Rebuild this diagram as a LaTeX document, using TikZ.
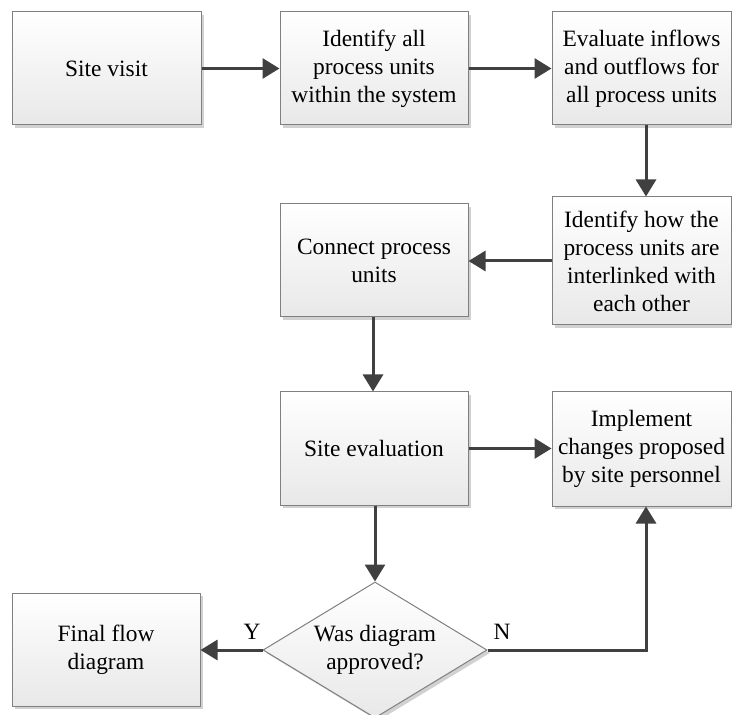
\documentclass[tikz,border=0pt]{standalone}
\usepackage{fontspec}
\setmainfont{Liberation Serif}
\usetikzlibrary{arrows.meta,shapes.geometric,shadows}

\tikzset{
  flowbox/.style={rectangle, draw=black!50, line width=0.5pt,
    top color=white, bottom color=black!9,
    drop shadow={shadow xshift=1.5pt, shadow yshift=-1.5pt, fill=black!18, opacity=1},
    inner sep=0pt, align=center,
    font=\fontsize{11.7pt}{14pt}\selectfont},
  decision/.style={diamond, draw=black!50, line width=0.5pt,
    top color=white, bottom color=black!9,
    drop shadow={shadow xshift=1.5pt, shadow yshift=-1.5pt, fill=black!18, opacity=1},
    inner sep=0pt, aspect=1.65, minimum width=112pt, minimum height=68pt,
    align=center, font=\fontsize{11.7pt}{14pt}\selectfont},
  link/.style={draw=black!75, line width=1.5pt,
    -{Triangle[length=8.5pt,width=10pt]}},
  branch/.style={font=\fontsize{11.7pt}{14pt}\selectfont}
}

\begin{document}
\begin{tikzpicture}[x=0.5pt, y=-0.5pt]
  \useasboundingbox (0,0) rectangle (732,715);

  % top row
  \node[flowbox, minimum width=94.5pt, minimum height=56.5pt] (visit) at (106.5,68.5) {Site visit};
  \node[flowbox, minimum width=94pt, minimum height=56.5pt] (units) at (374,68.5)
    {Identify all\\process units\\within the system};
  \node[flowbox, minimum width=89.5pt, minimum height=56.5pt] (flows) at (641.5,68.5)
    {Evaluate inflows\\and outflows for\\all process units};

  % second row
  \node[flowbox, minimum width=89.5pt, minimum height=64pt] (links) at (641.5,261)
    {Identify how the\\process units are\\interlinked with\\each other};
  \node[flowbox, minimum width=94pt, minimum height=56.5pt] (connect) at (374,260.5)
    {Connect process\\units};

  % third row
  \node[flowbox, minimum width=94pt, minimum height=56.5pt] (evaluation) at (374,448.5)
    {Site evaluation};
  \node[flowbox, minimum width=89.5pt, minimum height=57pt] (changes) at (641.5,449)
    {Implement\\changes proposed\\by site personnel};

  % decision and result
  \node[decision] (approved) at (375,650) {Was diagram\\approved?};
  \node[flowbox, minimum width=94pt, minimum height=56.5pt] (final) at (106,649.5)
    {Final flow\\diagram};

  % connectors
  \draw[link] (visit.east) -- (units.west);
  \draw[link] (units.east) -- (flows.west);
  \draw[link] ([xshift=2.25pt]flows.south) -- ([xshift=2.25pt]links.north);
  \draw[link] (links.west) -- (links.west -| connect.east);
  \draw[link] ([xshift=-0.5pt]connect.south) -- ([xshift=-0.5pt]evaluation.north);
  \draw[link] (evaluation.east) -- (evaluation.east -| changes.west);
  \draw[link] (evaluation.south -| approved.north) -- (approved.north);
  \draw[link] (approved.west) -- (approved.west -| final.east);
  \draw[link] (approved.east) -| ([xshift=2.25pt]changes.south);

  % branch labels
  \node[branch] (yes) at (252,632) {Y};
  \node[branch] (no) at (502,632) {N};
\end{tikzpicture}
\end{document}
